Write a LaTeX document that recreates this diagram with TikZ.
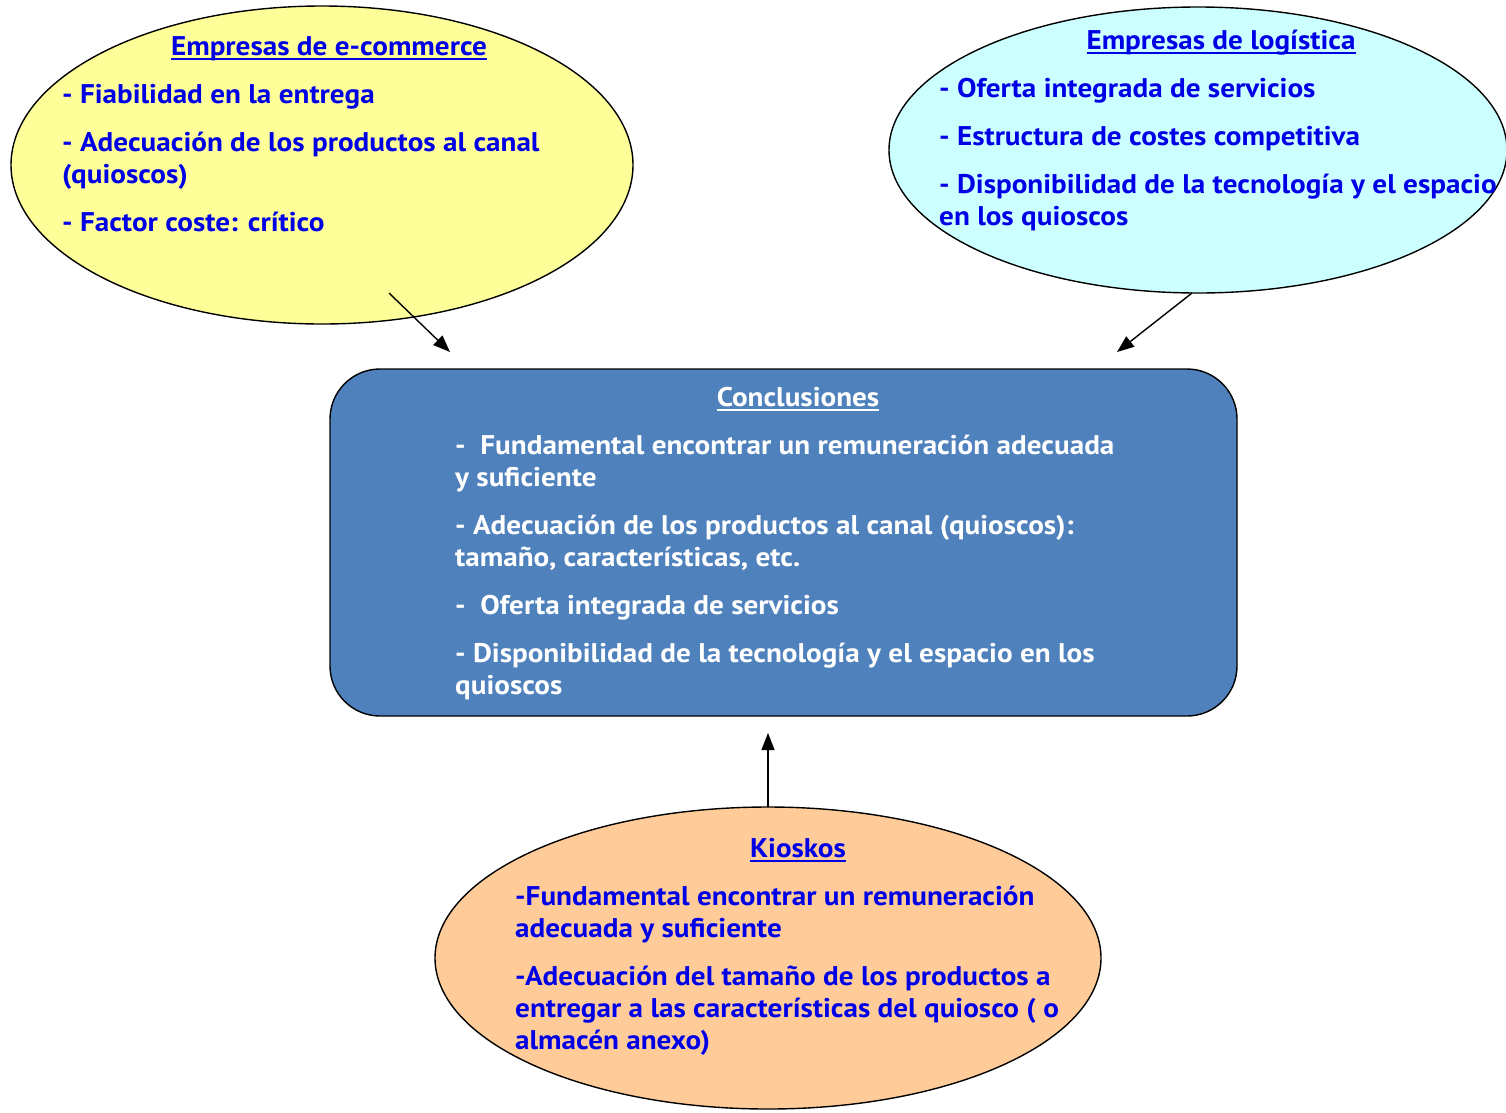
\documentclass[tikz,border=0pt]{standalone}
\usepackage{fontspec}
\setmainfont{PT Sans}[FakeStretch=1.08]
\usetikzlibrary{arrows.meta}
% heading underline: a 2pt rule set 5pt below the baseline
\newcommand\thkul[1]{\leavevmode\setbox0=\hbox{#1}\rlap{\rule[-5pt]{\wd0}{2pt}}\box0}
\definecolor{txtblue}{RGB}{0,0,230}
\definecolor{yellowfill}{RGB}{255,255,153}
\definecolor{cyanfill}{RGB}{204,255,255}
\definecolor{boxfill}{RGB}{79,129,189}
\definecolor{orangefill}{RGB}{255,204,153}
\tikzset{
  bubble/.style={draw=black, line width=1.4pt},
  ln/.style={anchor=base west, inner sep=0pt, font=\fontsize{27}{32}\selectfont\bfseries},
  bl/.style={ln, text=txtblue},
  wh/.style={ln, text=white},
  ttl/.style={anchor=base, inner sep=0pt, font=\fontsize{27}{32}\selectfont\bfseries},
  conn/.style={draw=black, line width=1.4pt, -{Triangle[length=17pt,width=13pt]}},
}
\begin{document}
\begin{tikzpicture}[x=1pt,y=-1pt]
\useasboundingbox (0,0) rectangle (1506,1112);

% e-commerce bubble
\draw[bubble, fill=yellowfill] (322,165) ellipse [x radius=311, y radius=159];
\node[ttl, text=txtblue] (t1) at (329,55) {\thkul{Empresas de e-commerce}};
\node[bl] (a1) at (62,103) {- Fiabilidad en la entrega};
\node[bl] (a2) at (62,151) {- Adecuación de los productos al canal};
\node[bl] (a3) at (62,183) {(quioscos)};
\node[bl] (a4) at (62,231) {- Factor coste: crítico};

% logistics bubble
\draw[bubble, fill=cyanfill] (1198,150) ellipse [x radius=309, y radius=143];
\node[ttl, text=txtblue] (t2) at (1221,49) {\thkul{Empresas de logística}};
\node[bl] (b1) at (939,97) {- Oferta integrada de servicios};
\node[bl] (b2) at (939,145) {- Estructura de costes competitiva};
\node[bl] (b3) at (939,193) {- Disponibilidad de la tecnología y el espacio};
\node[bl] (b4) at (939,225) {en los quioscos};

% conclusions box
\draw[bubble, fill=boxfill, rounded corners=50pt] (330,369) rectangle (1237,716);
\node[ttl, text=white] (t3) at (798,406) {\thkul{Conclusiones}};
\node[wh] (c1) at (455,454) {-\ \ Fundamental encontrar un remuneración adecuada};
\node[wh] (c2) at (455,486) {y suficiente};
\node[wh] (c3) at (455,534) {- Adecuación de los productos al canal (quioscos):};
\node[wh] (c4) at (455,566) {tamaño, características, etc.};
\node[wh] (c5) at (455,614) {-\ \ Oferta integrada de servicios};
\node[wh] (c6) at (455,662) {- Disponibilidad de la tecnología y el espacio en los};
\node[wh] (c7) at (455,694) {quioscos};

% kiosk bubble
\draw[bubble, fill=orangefill] (768,958) ellipse [x radius=333, y radius=151];
\node[ttl, text=txtblue] (t4) at (798,857) {\thkul{Kioskos}};
\node[bl] (d1) at (515,905) {-Fundamental encontrar un remuneración};
\node[bl] (d2) at (515,937) {adecuada y suficiente};
\node[bl] (d3) at (515,985) {-Adecuación del tamaño de los productos a};
\node[bl] (d4) at (515,1017) {entregar a las características del quiosco ( o};
\node[bl] (d5) at (515,1049) {almacén anexo)};

% connectors
\coordinate (s1) at (389,293);
\coordinate (e1) at (450,352);
\coordinate (s2) at (1192,293);
\coordinate (e2) at (1117,352);
\coordinate (s3) at (768,807);
\coordinate (e3) at (768,733);
\draw[conn] (s1) -- (e1);
\draw[conn] (s2) -- (e2);
\draw[conn] (s3) -- (e3);
\end{tikzpicture}
\end{document}
